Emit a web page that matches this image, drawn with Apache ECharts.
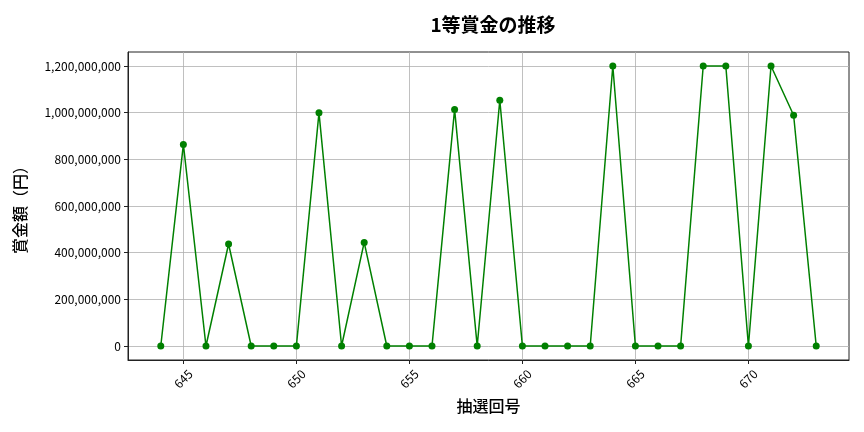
<!DOCTYPE html>
<html lang="ja">
<head>
    <meta charset="UTF-8">
    <title>1等賞金の推移</title>
    <script src="https://cdn.jsdelivr.net/npm/echarts@6/dist/echarts.min.js"></script>
    <style>
        html, body { margin: 0; padding: 0; background: #fff; }
    </style>
</head>
<body>
<div id="main" style="width: 864px;height:432px;"></div>

<script type="text/javascript">
    // 抽選回号
    var draws = [644, 645, 646, 647, 648, 649, 650, 651, 652, 653,
                 654, 655, 656, 657, 658, 659, 660, 661, 662, 663,
                 664, 665, 666, 667, 668, 669, 670, 671, 672, 673];
    // 1等賞金（円）
    var prizes = [0, 864000000, 0, 437000000, 0, 0, 0, 1000000000, 0, 444000000,
                  0, 0, 0, 1014000000, 0, 1053000000, 0, 0, 0, 0,
                  1200000000, 0, 0, 0, 1200000000, 1200000000, 0, 1200000000, 989000000, 0];
    var xTicks = [645, 650, 655, 660, 665, 670];
    var yTicks = [0, 200000000, 400000000, 600000000, 800000000, 1000000000, 1200000000];

    var font = "'Noto Sans CJK JP', 'Noto Sans', sans-serif";
    var myChart = echarts.init(document.getElementById('main'));

    var points = draws.map(function (d, i) { return [d, prizes[i]]; });

    var option = {
        animation: false,
        title: {
            text: '1等賞金の推移',
            left: 488,
            top: 10,
            textAlign: 'center',
            textStyle: { fontFamily: font, fontSize: 19, fontWeight: 'bold', color: '#000' }
        },
        grid: {
            left: 128, right: 15, top: 52, bottom: 72,
            show: true, borderColor: '#222', borderWidth: 1
        },
        xAxis: {
            type: 'value',
            min: 642.55,
            max: 674.45,
            name: '抽選回号',
            nameLocation: 'middle',
            nameGap: 38,
            nameTextStyle: { fontFamily: font, fontSize: 16, fontWeight: 500, color: '#000' },
            axisLine: { show: true, onZero: false, lineStyle: { color: '#222' } },
            axisTick: { show: true, length: 4, customValues: xTicks, lineStyle: { color: '#222' } },
            axisLabel: {
                customValues: xTicks,
                rotate: 45,
                align: 'center',
                verticalAlign: 'middle',
                margin: 19,
                fontFamily: font, fontSize: 12, color: '#000'
            },
            splitLine: { show: true, lineStyle: { color: '#b0b0b0', width: 0.8 } }
        },
        yAxis: {
            type: 'value',
            min: -60000000,
            max: 1260000000,
            name: '賞金額（円）',
            nameLocation: 'middle',
            nameGap: 100,
            nameTextStyle: { fontFamily: font, fontSize: 16, fontWeight: 500, color: '#000' },
            axisLine: { show: true, lineStyle: { color: '#222' } },
            axisTick: { show: true, length: 4, customValues: yTicks, lineStyle: { color: '#222' } },
            axisLabel: {
                customValues: yTicks,
                margin: 7,
                fontFamily: font, fontSize: 12, color: '#000',
                formatter: function (v) { return Math.round(v).toLocaleString('en-US'); }
            },
            splitLine: { show: true, lineStyle: { color: '#b0b0b0', width: 0.8 } }
        },
        series: [
            {
                type: 'line',
                data: points,
                symbol: 'circle',
                symbolSize: 7,
                itemStyle: { color: '#008000' },
                lineStyle: { color: '#008000', width: 1.5 }
            }
        ]
    };
    myChart.setOption(option);
</script>
</body>
</html>
